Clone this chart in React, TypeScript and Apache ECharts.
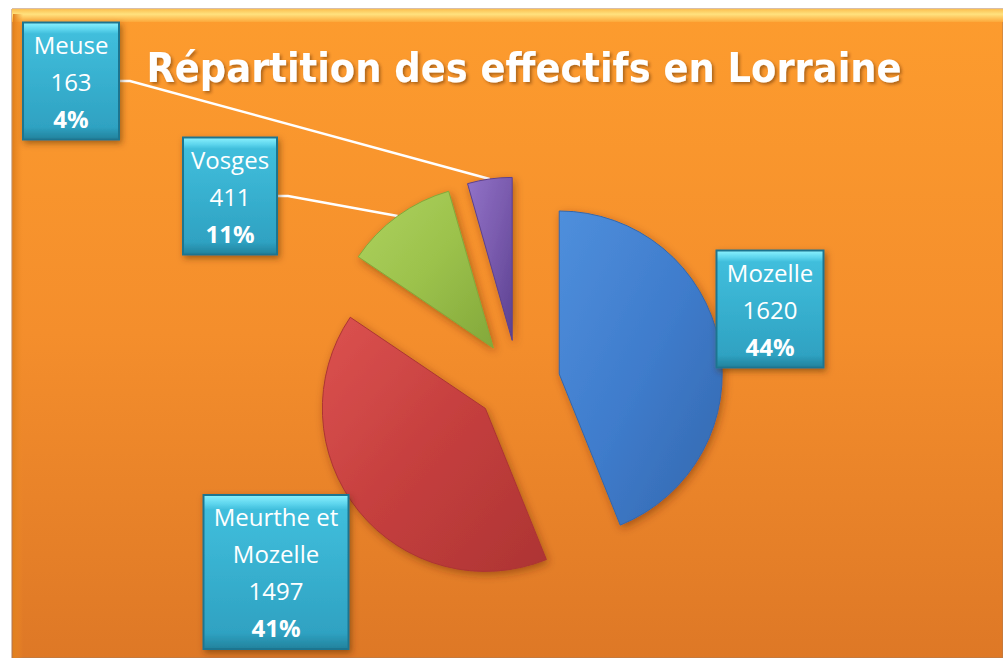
import React, { useEffect, useRef } from "react";
import * as echarts from "echarts";

const categories = ["Mozelle", "Meurthe et Mozelle", "Vosges", "Meuse"];
const values = [1620, 1497, 411, 163];
const titleText = "Répartition des effectifs en Lorraine";

// layout (not data)
const pieCenter: [number, number] = [518, 382];
const pieRadius = 163;
const explode = 42;
const sliceColors: [string, string, string][] = [
  ["#4f8fdc", "#3f7ccc", "#3367ad"],
  ["#dc5250", "#c53f3e", "#ad3433"],
  ["#aed25e", "#9cc24c", "#83a83a"],
  ["#9273c8", "#7a5bae", "#5b4190"],
];
const labelCenters: [number, number][] = [
  [770, 309],
  [276, 572],
  [230, 196],
  [71, 81],
];
const labelWidths = [93, 131, 80, 82];
const showLine = [false, false, true, true];

const FONT = "'Open Sans', sans-serif";

export default function App() {
  const ref = useRef<HTMLDivElement>(null);
  useEffect(() => {
    if (!ref.current) return;
    const chart = echarts.init(ref.current, undefined, { renderer: "svg" });
    const total = values.reduce((a, b) => a + b, 0);
    const boxBg = () =>
      new echarts.graphic.LinearGradient(0, 0, 0, 1, [
        { offset: 0, color: "#86eefc" },
        { offset: 0.05, color: "#5fd6ee" },
        { offset: 0.09, color: "#40bedc" },
        { offset: 0.9, color: "#2fa2c2" },
        { offset: 1, color: "#23849f" },
      ]);
    const hidden = (v: number) => ({
      value: v,
      name: "",
      itemStyle: { color: "rgba(0,0,0,0)", borderWidth: 0, shadowBlur: 0, shadowColor: "rgba(0,0,0,0)" },
      label: { show: false },
      labelLine: { show: false },
    });
    let cum = 0;
    const series = categories.map((name, i) => {
      const before = cum;
      cum += values[i];
      const after = total - cum;
      const mid = ((before + values[i] / 2) / total) * Math.PI * 2;
      const cx = pieCenter[0] + explode * Math.sin(mid);
      const cy = pieCenter[1] - explode * Math.cos(mid);
      return {
        type: "pie",
        center: [cx, cy],
        radius: [0, pieRadius],
        startAngle: 90,
        clockwise: true,
        avoidLabelOverlap: false,
        emphasis: { disabled: true },
        silent: true,
        label: {
          show: true,
          position: "outside",
          formatter: (p: any) =>
            `{n|${String(p.name).replace(" et ", " et\n")}}\n{v|${p.value}}\n{p|${Math.round(p.percent)}%}`,
          backgroundColor: boxBg(),
          borderColor: "#1f7590",
          borderWidth: 2,
          padding: [2, 6],
          width: labelWidths[i],
          align: "center",
          shadowBlur: 6,
          shadowColor: "rgba(80,40,0,0.5)",
          shadowOffsetX: 2,
          shadowOffsetY: 3,
          rich: {
            n: { color: "#ffffff", fontFamily: FONT, fontSize: 24, lineHeight: 37, align: "center" },
            v: { color: "#ffffff", fontFamily: FONT, fontSize: 24, lineHeight: 37, align: "center" },
            p: { color: "#ffffff", fontFamily: FONT, fontWeight: "bold", fontSize: 24, lineHeight: 37, align: "center" },
          },
        },
        labelLine: {
          show: showLine[i],
          length: 10,
          length2: 10,
          lineStyle: { color: "#ffffff", width: 2.5 },
        },
        labelLayout: (params: any) => {
          if (params.dataIndex !== 1) return {};
          const c = labelCenters[i];
          return { x: c[0], y: c[1], align: "center", verticalAlign: "middle" };
        },
        data: [
          hidden(before),
          {
            name,
            value: values[i],
            itemStyle: {
              color: new echarts.graphic.LinearGradient(0, 0, 1, 1, [
                { offset: 0, color: sliceColors[i][0] },
                { offset: 0.5, color: sliceColors[i][1] },
                { offset: 1, color: sliceColors[i][2] },
              ]),
              borderColor: sliceColors[i][2],
              borderWidth: 1,
              shadowBlur: 8,
              shadowColor: "rgba(90,40,0,0.45)",
              shadowOffsetX: 2,
              shadowOffsetY: 3,
            },
          },
          hidden(after),
        ],
      };
    });
    chart.setOption({
      animation: false,
      backgroundColor: "#ffffff",
      title: {
        text: titleText,
        left: 519,
        top: 42,
        textAlign: "center",
        textStyle: {
          color: "#ffffff",
          fontFamily: "'Liberation Sans Narrow', 'DejaVu Sans Condensed', 'Open Sans', sans-serif",
          fontWeight: "bold",
          fontSize: 41,
          textShadowColor: "rgba(80,40,0,0.45)",
          textShadowBlur: 3,
          textShadowOffsetX: 2,
          textShadowOffsetY: 2,
        },
      },
      graphic: [
        {
          type: "rect",
          z: -10,
          shape: { x: 12, y: 9, width: 991, height: 649 },
          style: {
            fill: new echarts.graphic.LinearGradient(0, 0, 0, 1, [
              { offset: 0, color: "#fd9c2e" },
              { offset: 0.5, color: "#f48e2c" },
              { offset: 1, color: "#de7826" },
            ]),
            stroke: "#b07a50",
            lineWidth: 1,
          },
          silent: true,
        },
        {
          type: "rect",
          z: -9,
          shape: { x: 12, y: 9, width: 991, height: 13 },
          style: {
            fill: new echarts.graphic.LinearGradient(0, 0, 0, 1, [
              { offset: 0, color: "#fbbf50" },
              { offset: 0.4, color: "#ffe27e" },
              { offset: 1, color: "#fda83a" },
            ]),
          },
          silent: true,
        },
        {
          type: "rect",
          z: -9,
          shape: { x: 13, y: 14, width: 10, height: 644 },
          style: {
            fill: new echarts.graphic.LinearGradient(0, 0, 1, 0, [
              { offset: 0, color: "#e0801c" },
              { offset: 1, color: "rgba(240,140,40,0)" },
            ]),
          },
          silent: true,
        },
      ],
      series,
    });
    return () => chart.dispose();
  }, []);
  return (
    <div
      ref={ref}
      style={{ position: "absolute", left: 0, top: 0, width: 1003, height: 658 }}
    />
  );
}
